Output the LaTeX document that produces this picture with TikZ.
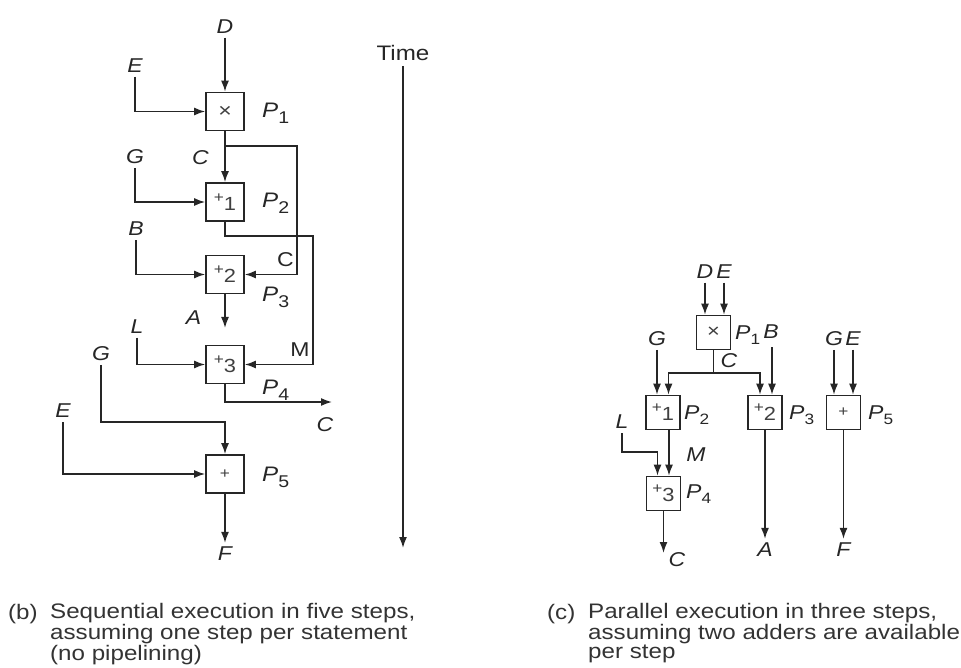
\documentclass[tikz,border=0pt]{standalone}
\usepackage{fontspec}
\setmainfont{Liberation Sans}[FakeStretch=1.15]
\usetikzlibrary{arrows.meta}
\newcommand\myP[1]{\textit{P}\raisebox{-6pt}{\fontsize{17}{17}\selectfont #1}}
\newcommand\myPs[1]{\textit{P}\raisebox{-5pt}{\fontsize{15}{15}\selectfont #1}}
\newcommand\myop[1]{\raisebox{3.5pt}{\fontsize{15}{15}\selectfont +}\raisebox{-4.5pt}{\fontsize{19}{19}\selectfont #1}}
\tikzset{
  ln/.style={line width=1.6pt, draw=black!85},
  arr/.style={ln, -{Latex[length=11pt,width=8pt]}},
  opbox/.style={draw=black!85, line width=1.6pt, minimum size=38pt, inner sep=0pt, fill=white, text=black!75},
  opboxs/.style={opbox, minimum size=34pt},
  lab/.style={font=\fontsize{20}{20}\selectfont\itshape, inner sep=4pt, text=black!85},
  rlab/.style={font=\fontsize{20}{20}\selectfont, inner sep=0pt, text=black!85},
  plab/.style={anchor=west, inner sep=0pt, font=\fontsize{21}{21}\selectfont, text=black!85},
  plabs/.style={anchor=west, inner sep=0pt, font=\fontsize{20}{20}\selectfont, text=black!85},
  captxt/.style={font=\fontsize{21}{19}\selectfont, inner sep=0pt, text=black!80},
}
\begin{document}
\begin{tikzpicture}[x=1pt,y=-1pt]
\useasboundingbox (0,0) rectangle (961,668);
% ---------- left: sequential ----------
\node[opbox] (b1) at (225,111.5) {\fontsize{20}{20}\selectfont ×};
\node[opbox] (b2) at (225,202) {\myop{1}};
\node[opbox] (b3) at (225,274.5) {\myop{2}};
\node[opbox] (b4) at (225,364.5) {\myop{3}};
\node[opbox] (b5) at (225,474) {\fontsize{15}{15}\selectfont +};

\node[lab] (D1) at (225,26.5) {D};
\node[lab] (E1) at (135,65.5) {E};
\node[lab] (G1) at (135,156.5) {G};
\node[lab] (B1) at (136,229) {B};
\node[lab] (L1) at (137,326.5) {L};
\node[lab] (G2) at (101,353.5) {G};
\node[lab] (E2) at (63,411) {E};
\node[lab] (F1) at (225,554) {F};
\node[lab] (Cl1) at (200.5,157.5) {C};
\node[lab] (Al1) at (193.5,317.5) {A};
\node[lab] (Cl2) at (325,425) {C};
\node[rlab] (Cl3) at (285.5,259.5) {C};
\node[rlab] (Ml1) at (300,350) {M};

\node[plab] (p1) at (262,113) {\myP{1}};
\node[plab] (p2) at (262,203.5) {\myP{2}};
\node[plab] (p3) at (262,297.5) {\myP{3}};
\node[plab] (p4) at (262,390) {\myP{4}};
\node[plab] (p5) at (262,477.5) {\myP{5}};

\coordinate (c1) at (225,146);
\coordinate (c1r) at (297,146);
\coordinate (m1) at (313,236);
\coordinate (Aend) at (225,328);
\coordinate (Cend) at (332,402);
\coordinate (g2c) at (225,422);

\draw[arr] (D1) -- (b1);
\draw[arr] (E1) |- (b1);
\draw[arr] (b1) -- (b2);
\draw[arr] (c1) -- (c1r) |- (b3);
\draw[arr] (G1) |- (b2);
\draw[arr] (b2) |- (m1) |- (b4);
\draw[arr] (B1) |- (b3);
\draw[arr] (b3) -- (Aend);
\draw[arr] (L1) |- (b4);
\draw[arr] (b4) |- (Cend);
\draw[arr] (G2) |- (g2c) -- (b5);
\draw[arr] (E2) |- (b5);
\draw[arr] (b5) -- (F1);

% time arrow
\node[font=\fontsize{21}{21}\selectfont, inner sep=5pt, text=black!85] (T) at (403,53) {Time};
\coordinate (Tend) at (403,548);
\draw[arr] (T) -- (Tend);

% ---------- right: parallel ----------
\node[opboxs] (r1) at (713.5,332.5) {\fontsize{19}{19}\selectfont ×};
\node[opboxs] (r2) at (663,412.5) {\myop{1}};
\node[opboxs] (r3) at (765,412.5) {\myop{2}};
\node[opboxs] (r5) at (843.5,412.5) {\fontsize{15}{15}\selectfont +};
\node[opboxs] (r4) at (663.5,493.5) {\myop{3}};

\node[lab] (rD) at (705,271.5) {D};
\node[lab] (rE) at (724,271.5) {E};
\node[plabs] (rp1) at (735,335) {\myPs{1}};
\node[lab] (rB) at (771,331.5) {B};
\node[lab] (rC) at (729,360.5) {C};
\node[lab] (rG) at (657,338.5) {G};
\node[plabs] (rp2) at (684,415) {\myPs{2}};
\node[plabs] (rp3) at (789,415) {\myPs{3}};
\node[plabs] (rp5) at (868,415) {\myPs{5}};
\node[lab] (rG2) at (834,338.5) {G};
\node[lab] (rE2) at (853,338.5) {E};
\node[lab] (rL) at (622,422) {L};
\node[lab] (rM) at (696,455) {M};
\node[plabs] (rp4) at (686,494) {\myPs{4}};
\node[lab] (rCo) at (677,559.5) {C};
\node[lab] (rA) at (765,550) {A};
\node[lab] (rF) at (843.5,550) {F};

\coordinate (rBs) at (772,347);
\coordinate (j) at (713.5,373);
\coordinate (lc) at (657.5,452);
\coordinate (rCend) at (663.5,553);

\draw[arr] (rD) -- (rD |- r1.north);
\draw[arr] (rE) -- (rE |- r1.north);
\draw[ln] (r1) -- (j);
\draw[arr] (j) -| ([xshift=5.5pt]r2.north);
\draw[arr] (j) -| ([xshift=-5pt]r3.north);
\draw[arr] (rG) -- (rG |- r2.north);
\draw[arr] (rBs) -- (rBs |- r3.north);
\draw[arr] (rG2) -- (rG2 |- r5.north);
\draw[arr] (rE2) -- (rE2 |- r5.north);
\draw[arr] ([xshift=6pt]r2.south) -- ([xshift=5.5pt]r4.north);
\draw[arr] (rL) |- (lc) -- (lc |- r4.north);
\draw[arr] (r4) -- (rCend);
\draw[arr] (r3) -- (rA);
\draw[arr] (r5) -- (rF);

% ---------- captions ----------
\node[captxt, anchor=base west] (cb) at (8,619) {(b)};
\node[captxt, anchor=north west, align=left] (cbt) at (50,603.5) {Sequential execution in five steps,\\assuming one step per statement\\(no pipelining)};
\node[captxt, anchor=base west] (cc) at (547,619) {(c)};
\node[captxt, anchor=north west, align=left] (cct) at (588,603.5) {Parallel execution in three steps,\\assuming two adders are available\\per step};
\end{tikzpicture}
\end{document}
